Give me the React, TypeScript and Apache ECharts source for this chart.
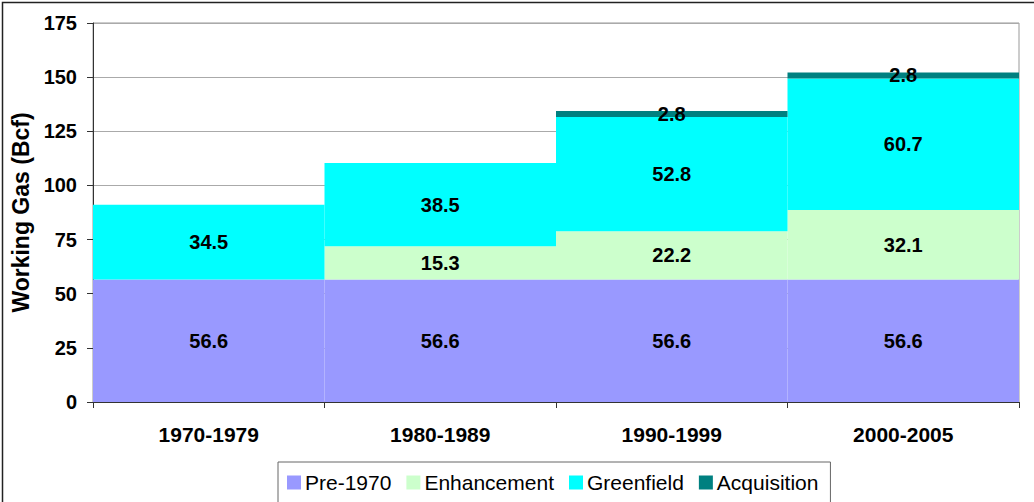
import React, { useEffect, useRef } from "react";
import * as echarts from "echarts";

const categories = ["1970-1979", "1980-1989", "1990-1999", "2000-2005"];
const pre1970 = [56.6, 56.6, 56.6, 56.6];
const enhancement = [null, 15.3, 22.2, 32.1];
const greenfield = [34.5, 38.5, 52.8, 60.7];
const acquisition = [null, null, 2.8, 2.8];
const yTicks = { min: 0, max: 175, interval: 25 };

export default function App() {
  const ref = useRef<HTMLDivElement>(null);
  useEffect(() => {
    if (!ref.current) return;
    const chart = echarts.init(ref.current, null, { renderer: "svg" });
    const font = "Arial, 'Liberation Sans', sans-serif";
    const mk = (name: string, data: any[], color: string) => ({
      name,
      type: "bar",
      stack: "total",
      data,
      barCategoryGap: "0%",
      itemStyle: { color },
      label: {
        show: true,
        position: "inside",
        color: "#000",
        fontWeight: "bold",
        fontSize: 20,
        fontFamily: font,
        formatter: (p: any) => (p.value == null ? "" : String(p.value)),
      },
    });
    chart.setOption({
      animation: false,
      textStyle: { fontFamily: font },
      grid: { left: 93, right: 15, top: 23, bottom: 100, show: true, borderColor: "#999", borderWidth: 1, containLabel: false },
      graphic: [
        {
          type: "rect",
          shape: { x: 2.5, y: 2.5, width: 1060, height: 540 },
          style: { fill: "none", stroke: "#222", lineWidth: 1.5 },
          silent: true,
        },
      ],
      legend: {
        left: 278,
        top: 462,
        orient: "horizontal",
        itemWidth: 14,
        itemHeight: 14,
        itemGap: 15,
        icon: "rect",
        padding: [10, 12, 30, 9],
        borderColor: "#666",
        borderWidth: 1,
        textStyle: { fontSize: 21, color: "#000", fontFamily: font, padding: [0, 0, 0, -1] },
        data: ["Pre-1970", "Enhancement", "Greenfield", "Acquisition"],
      },
      xAxis: {
        type: "category",
        data: categories,
        axisLine: { lineStyle: { color: "#333", width: 1 } },
        axisTick: { show: true, length: 6, lineStyle: { color: "#333" } },
        axisLabel: { fontSize: 21, fontWeight: "bold", color: "#000", margin: 22, fontFamily: font },
      },
      yAxis: {
        type: "value",
        min: yTicks.min,
        max: yTicks.max,
        interval: yTicks.interval,
        name: "Working Gas (Bcf)",
        nameLocation: "middle",
        nameGap: 59,
        nameTextStyle: { fontSize: 23, fontWeight: "bold", color: "#000", fontFamily: font },
        axisLine: { show: true, lineStyle: { color: "#333", width: 1 } },
        axisTick: { show: true, length: 6, lineStyle: { color: "#333" } },
        axisLabel: { fontSize: 20, fontWeight: "bold", color: "#000", margin: 16, fontFamily: font },
        splitLine: { lineStyle: { color: "#aaa", width: 1 } },
      },
      series: [
        mk("Pre-1970", pre1970, "#9999FF"),
        mk("Enhancement", enhancement, "#CCFFCC"),
        mk("Greenfield", greenfield, "#00FFFF"),
        mk("Acquisition", acquisition, "#008080"),
      ],
    });
    return () => chart.dispose();
  }, []);
  return <div ref={ref} style={{ width: 1034, height: 502, position: "absolute", left: 0, top: 0 }} />;
}
